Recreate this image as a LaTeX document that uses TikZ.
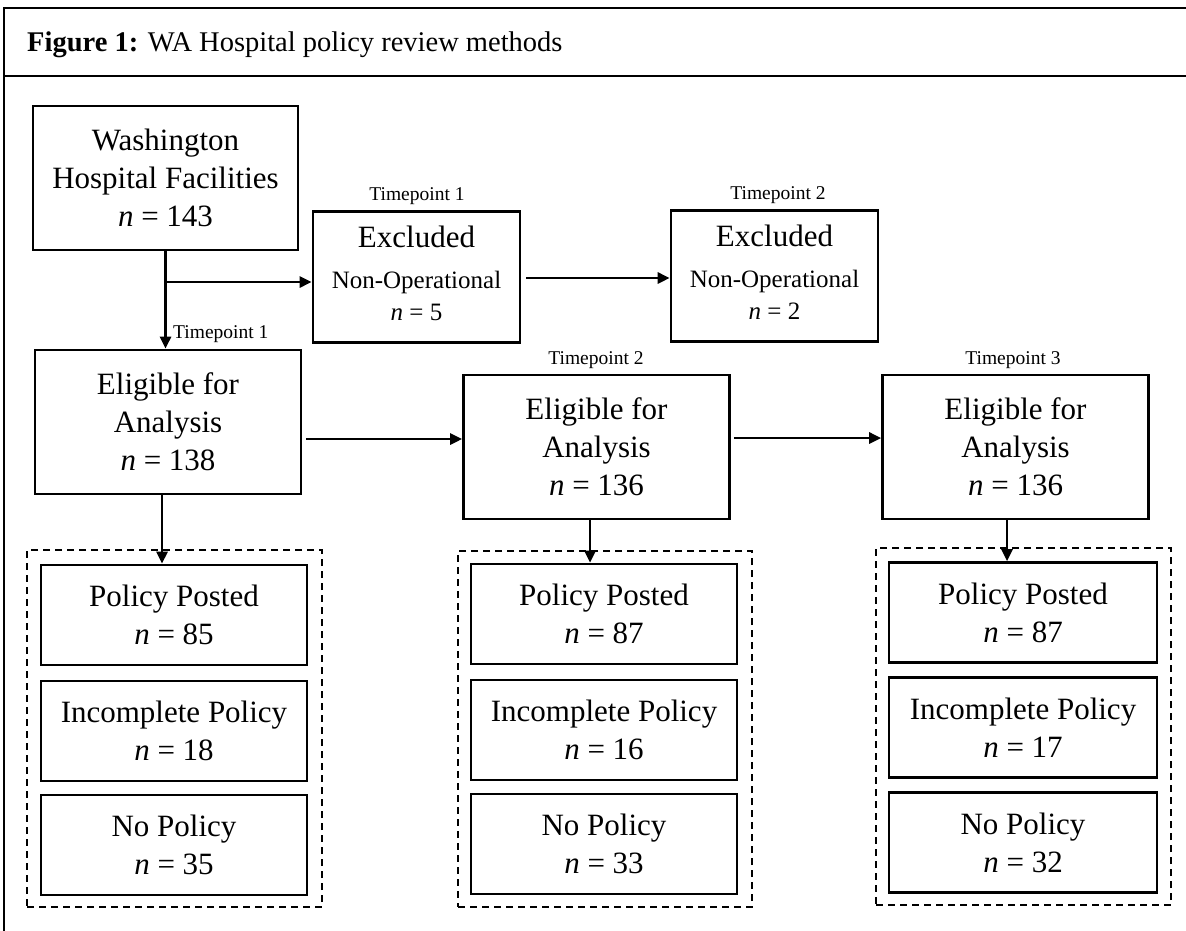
\documentclass[tikz,border=0pt]{standalone}
\usepackage{fontspec}
\setmainfont{Liberation Serif}
\usetikzlibrary{arrows.meta,calc}
\begin{document}
\begin{tikzpicture}[x=1pt,y=-1pt,
  box/.style={draw, line width=2.6pt, align=center, inner sep=0pt, font=\fontsize{31}{38}\selectfont},
  pbox/.style={box, minimum width=266pt, minimum height=100pt},
  ebox/.style={box, minimum width=266pt, minimum height=144pt},
  xbox/.style={box, minimum width=207pt, minimum height=131pt, text depth=8pt},
  tp/.style={font=\fontsize{19.5}{22}\selectfont, inner sep=0pt},
  arr/.style={line width=2.6pt, -{Triangle[length=12pt,width=11pt]}},
  dbox/.style={draw, line width=1.5pt, dash pattern=on 7pt off 5pt, inner sep=0pt},
  frame/.style={line width=2.6pt}
]
\useasboundingbox (0,0) rectangle (1186,931);
% frame
\draw[frame] (4,931) -- (4,8) -- (1186,8);
\draw[frame] (4,76) -- (1186,76);
\node[anchor=base west, inner sep=0pt, font=\fontsize{28.5}{32}\selectfont] (title) at (27,52) {\textbf{Figure 1:} WA Hospital policy review methods};

% top boxes
\node[box, minimum width=265pt, minimum height=144pt] (W) at (165.5,178) {Washington\\Hospital Facilities\\\textit{n} = 143};
\node[xbox] (X1) at (416.5,277) {Excluded\\[3pt]{\fontsize{25}{32}\selectfont Non-Operational}\\[-6pt]{\fontsize{25}{32}\selectfont\textit{n} = 5}};
\node[xbox] (X2) at (774.5,276) {Excluded\\[3pt]{\fontsize{25}{32}\selectfont Non-Operational}\\[-6pt]{\fontsize{25}{32}\selectfont\textit{n} = 2}};

% eligible boxes
\node[ebox] (E1) at (168,422) {Eligible for\\Analysis\\\textit{n} = 138};
\node[ebox] (E2) at (596.5,447) {Eligible for\\Analysis\\\textit{n} = 136};
\node[ebox] (E3) at (1015.5,447) {Eligible for\\Analysis\\\textit{n} = 136};

% timepoint labels
\node[tp, anchor=base] (T1a) at (417,200) {Timepoint 1};
\node[tp, anchor=base] (T2a) at (778,199) {Timepoint 2};
\node[tp, anchor=base west] (T1b) at (173,338) {Timepoint 1};
\node[tp, anchor=base] (T2b) at (596,364) {Timepoint 2};
\node[tp, anchor=base] (T3b) at (1013,364) {Timepoint 3};

% dashed groups
\node[dbox, minimum width=295pt, minimum height=357pt] (D1) at (174.5,728.5) {};
\node[dbox, minimum width=294pt, minimum height=356pt] (D2) at (605,729) {};
\node[dbox, minimum width=295pt, minimum height=357pt] (D3) at (1023.5,726.5) {};

% outcome boxes
\node[pbox] (P11) at (174,615) {Policy Posted\\\textit{n} = 85};
\node[pbox] (P12) at (174,731) {Incomplete Policy\\\textit{n} = 18};
\node[pbox] (P13) at (174,845) {No Policy\\\textit{n} = 35};
\node[pbox] (P21) at (604,614) {Policy Posted\\\textit{n} = 87};
\node[pbox] (P22) at (604,730) {Incomplete Policy\\\textit{n} = 16};
\node[pbox] (P23) at (604,844) {No Policy\\\textit{n} = 33};
\node[pbox, minimum width=268pt] (P31) at (1023,612.5) {Policy Posted\\\textit{n} = 87};
\node[pbox, minimum width=268pt] (P32) at (1023,727.5) {Incomplete Policy\\\textit{n} = 17};
\node[pbox, minimum width=268pt] (P33) at (1023,842.5) {No Policy\\\textit{n} = 32};

% connectors
\coordinate (b1) at (165.5,282);
\coordinate (h1) at (0,278);
\coordinate (h2) at (0,439);
\coordinate (h3) at (0,438);
\coordinate (v1) at (162,0);
\coordinate (v2) at (590,0);
\coordinate (v3) at (1007,0);
\draw[arr] (W.south) -- (W.south |- E1.north);
\draw[arr] (b1) -- (b1 -| X1.west);
\draw[arr, shorten <=5pt] (X1.east |- h1) -- (X2.west |- h1);
\draw[arr, shorten <=4pt] (E1.east |- h2) -- (E2.west |- h2);
\draw[arr, shorten <=3pt] (E2.east |- h3) -- (E3.west |- h3);
\draw[arr] (E1.south -| v1) -- (P11.north -| v1);
\draw[arr] (E2.south -| v2) -- (P21.north -| v2);
\draw[arr] (E3.south -| v3) -- (P31.north -| v3);
\end{tikzpicture}
\end{document}
